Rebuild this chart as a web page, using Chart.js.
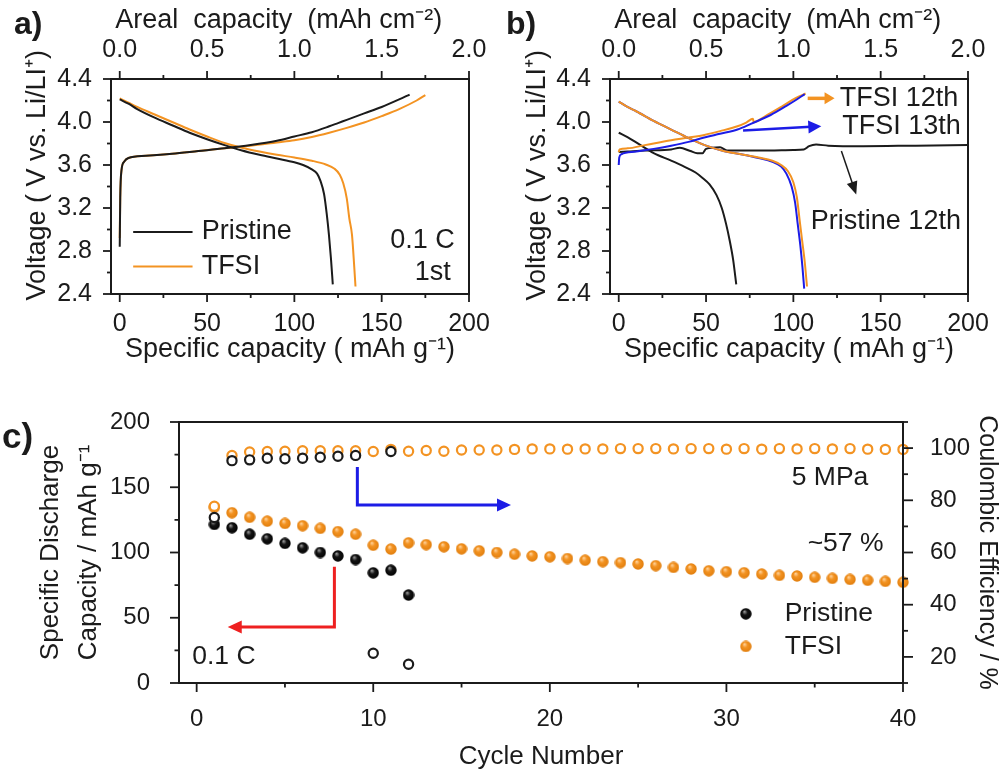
<!DOCTYPE html>
<html>
<head>
<meta charset="utf-8">
<script src="https://cdn.jsdelivr.net/npm/chart.js@4.4.1/dist/chart.umd.min.js"></script>
<style>
  body { margin: 0; background: #fff; width: 1000px; height: 773px; overflow: hidden; position: relative; }
  canvas { position: absolute; }
</style>
</head>
<body>
<canvas id="chart-a" width="500" height="370" style="left:0;top:0;width:500px;height:370px"></canvas>
<canvas id="chart-b" width="500" height="370" style="left:500px;top:0;width:500px;height:370px"></canvas>
<canvas id="chart-c" width="1000" height="393" style="left:0;top:380px;width:1000px;height:393px"></canvas>
<script>
  "use strict";

  // a) 1st cycle, 0.1 C
  const aPristineChargeCap = [0, 0.3, 1, 2.5, 5, 15, 30, 45, 60, 75, 90, 100, 110, 120, 125, 130, 140, 150, 160, 166];
  const aPristineChargeV = [2.84, 3.3, 3.55, 3.63, 3.665, 3.685, 3.705, 3.73, 3.755, 3.785, 3.825, 3.865, 3.905, 3.96, 3.99, 4.02, 4.08, 4.14, 4.21, 4.255];
  const aPristineDischCap = [0, 5, 10, 20, 30, 40, 50, 60, 70, 80, 90, 100, 105, 110, 113, 115, 117, 118.5, 119.8, 121, 122];
  const aPristineDischV = [4.21, 4.17, 4.12, 4.04, 3.97, 3.9, 3.84, 3.785, 3.735, 3.695, 3.66, 3.625, 3.6, 3.56, 3.52, 3.45, 3.33, 3.15, 2.95, 2.72, 2.49];
  const aTfsiChargeCap = [0, 0.3, 1, 2.5, 5, 15, 30, 45, 60, 75, 90, 100, 110, 120, 130, 140, 150, 160, 170, 175];
  const aTfsiChargeV = [2.92, 3.3, 3.55, 3.63, 3.665, 3.685, 3.705, 3.73, 3.755, 3.78, 3.81, 3.83, 3.86, 3.9, 3.945, 3.995, 4.055, 4.12, 4.2, 4.25];
  const aTfsiDischCap = [0, 5, 10, 20, 30, 40, 50, 60, 70, 80, 90, 100, 110, 118, 123, 126, 128, 130, 131.5, 133, 134.3, 135];
  const aTfsiDischV = [4.22, 4.18, 4.14, 4.07, 4.0, 3.93, 3.865, 3.805, 3.76, 3.725, 3.695, 3.67, 3.64, 3.605, 3.565, 3.51, 3.43, 3.29, 3.1, 2.95, 2.65, 2.47];

  // b) 12th / 13th cycle
  const bPristineChargeCap = [0, 5, 15, 30, 35, 41, 45, 48, 50, 58, 62, 80, 100, 106, 109, 113, 120, 140, 170, 200];
  const bPristineChargeV = [3.72, 3.725, 3.735, 3.745, 3.76, 3.73, 3.71, 3.71, 3.75, 3.765, 3.735, 3.735, 3.74, 3.745, 3.775, 3.79, 3.78, 3.775, 3.78, 3.785];
  const bPristineDischCap = [0, 5, 10, 15, 20, 30, 38, 44, 48, 52, 56, 59, 61.5, 63.5, 65.5, 67.3];
  const bPristineDischV = [3.9, 3.86, 3.81, 3.76, 3.71, 3.64, 3.58, 3.53, 3.48, 3.42, 3.32, 3.2, 3.05, 2.9, 2.72, 2.49];
  const bTfsi12ChargeCap = [0, 0.5, 5, 15, 30, 40, 49, 58, 68, 73, 76.9, 77.2, 84, 94, 101, 107];
  const bTfsi12ChargeV = [3.72, 3.745, 3.755, 3.785, 3.83, 3.855, 3.88, 3.915, 3.96, 3.995, 4.03, 4.0, 4.055, 4.15, 4.22, 4.265];
  const bTfsi12DischCap = [0, 5, 10, 20, 30, 40, 50, 60, 70, 80, 88, 93, 97, 100, 102, 103.5, 105, 106.5, 107.8];
  const bTfsi12DischV = [4.19, 4.14, 4.1, 4.01, 3.93, 3.85, 3.78, 3.73, 3.7, 3.67, 3.64, 3.6, 3.54, 3.44, 3.3, 3.1, 2.9, 2.7, 2.47];
  const bTfsi13ChargeCap = [0, 0.3, 1.5, 10, 20, 30, 40, 49, 58, 68, 76, 87, 96, 101, 106.5];
  const bTfsi13ChargeV = [3.6, 3.67, 3.7, 3.725, 3.75, 3.78, 3.815, 3.855, 3.89, 3.93, 3.985, 4.065, 4.15, 4.2, 4.26];
  const bTfsi13DischCap = [0, 5, 10, 20, 30, 40, 50, 60, 70, 80, 88, 93, 96, 99, 101, 102.5, 104, 105.2, 106.2];
  const bTfsi13DischV = [4.19, 4.14, 4.1, 4.01, 3.93, 3.85, 3.78, 3.73, 3.7, 3.665, 3.63, 3.585, 3.52, 3.4, 3.25, 3.05, 2.85, 2.65, 2.45];

  // c) cycling at 0.1 C, 5 MPa
  const cyclesPristine = [1, 2, 3, 4, 5, 6, 7, 8, 9, 10, 11, 12];
  const pristineCapacity = [121.5, 119, 114, 110.5, 107, 103.6, 100, 97.4, 94.6, 84.4, 86.4, 67.4];
  const pristineCE = [73.4, 95.2, 95.5, 96.1, 95.9, 96.1, 96.5, 96.9, 97.2, 21.4, 98.7, 17.2];
  const cyclesTfsi = [1, 2, 3, 4, 5, 6, 7, 8, 9, 10, 11, 12, 13, 14, 15, 16, 17, 18, 19, 20,
    21, 22, 23, 24, 25, 26, 27, 28, 29, 30, 31, 32, 33, 34, 35, 36, 37, 38, 39, 40];
  const tfsiCapacity = [134.6, 130.5, 127, 124, 122.3, 120.5, 118.5, 116, 114, 105.6, 102.6, 107.4, 106, 104.4, 102.8, 101.3, 100, 98.7, 97.4, 96.7,
    95.4, 94.1, 93, 92.2, 91.2, 89.9, 88.6, 87.4, 86, 85.3, 84.5, 83.5, 82.5, 82, 81, 80.2, 79.4, 78.7, 77.9, 77.2];
  const tfsiCE = [77.7, 97.2, 98.5, 98.7, 98.8, 99, 99, 99, 99, 98.7, 99.5, 98.8, 99.1, 98.8, 99.3, 99.3, 99.3, 99.5, 99.7, 99.7,
    99.6, 99.7, 99.7, 99.8, 99.8, 99.8, 99.7, 99.8, 99.8, 99.6, 99.8, 99.6, 99.8, 99.7, 99.8, 99.7, 99.8, 99.6, 99.5, 99.5];

  // tick values
  const capTicks = [0, 50, 100, 150, 200];
  const capMinor = [25, 75, 125, 175];
  const arealTicks = [0, 0.5, 1, 1.5, 2];
  const arealMinor = [0.25, 0.75, 1.25, 1.75];
  const voltTicks = [2.4, 2.8, 3.2, 3.6, 4.0, 4.4];
  const voltMinor = [2.6, 3.0, 3.4, 3.8, 4.2];
  const cycleTicks = [0, 10, 20, 30, 40];
  const cycleMinor = [5, 15, 25, 35];
  const capCTicks = [0, 50, 100, 150, 200];
  const capCMinor = [25, 75, 125, 175];
  const ceTicks = [20, 40, 60, 80, 100];
  const ceMinor = [10, 30, 50, 70, 90, 110];

  const INK = "#1b1b1b";
  const ORANGE = "#f39322";
  const BLUE = "#1c1ce6";
  const RED = "#ee2020";
  const FONT = '"Liberation Sans", Arial, Helvetica, sans-serif';

  Chart.defaults.font.family = FONT;
  Chart.defaults.color = INK;

  const pairs = (xs, ys) => xs.map((x, i) => ({ x, y: ys[i] }));
  const fixTicks = (values) => (scale) => {
    scale.ticks = values.map((value) => ({ value }));
  };

  function makeBall(size, edge, mid, light) {
    const c = document.createElement("canvas");
    c.width = c.height = size;
    const g = c.getContext("2d");
    const r = size / 2;
    const grad = g.createRadialGradient(r * 0.75, r * 0.6, r * 0.05, r, r, r);
    grad.addColorStop(0, light);
    grad.addColorStop(0.4, mid);
    grad.addColorStop(1, edge);
    g.fillStyle = grad;
    g.beginPath();
    g.arc(r, r, r - 0.3, 0, Math.PI * 2);
    g.fill();
    return c;
  }
  const blackBall = makeBall(12, "#000", "#151515", "#9a9a9a");
  const orangeBall = makeBall(12, "#e07d0c", "#f39322", "#ffd29a");

  // frame, tick marks, arrows and labels, placed through the chart's scales
  function decorPlugin(cfg) {
    return {
      id: "decor",
      afterDraw(chart) {
        const { ctx, chartArea: area, scales } = chart;
        ctx.save();
        ctx.strokeStyle = INK;
        ctx.lineWidth = 1.8;
        (cfg.ticks || []).forEach((t) => {
          const s = scales[t.scale];
          const pos = s.options.position;
          [[t.major, t.len], [t.minor, t.len / 2]].forEach(([vals, len]) => {
            vals.forEach((v) => {
              const p = s.getPixelForValue(v);
              ctx.beginPath();
              if (pos === "bottom") { ctx.moveTo(p, area.bottom); ctx.lineTo(p, area.bottom + len); }
              if (pos === "top") { ctx.moveTo(p, area.top); ctx.lineTo(p, area.top - len); }
              if (pos === "left") { ctx.moveTo(area.left, p); ctx.lineTo(area.left - len, p); }
              if (pos === "right") { ctx.moveTo(area.right, p); ctx.lineTo(area.right + len, p); }
              ctx.stroke();
            });
          });
        });
        ctx.lineWidth = 2;
        ctx.strokeRect(area.left, area.top, area.width, area.height);

        const xs = scales[cfg.xScale];
        const toPx = (pt) => [xs.getPixelForValue(pt[0]), scales[pt[2] || cfg.yScale].getPixelForValue(pt[1])];

        (cfg.lines || []).forEach((ln) => {
          const pts = ln.pts.map(toPx);
          ctx.strokeStyle = ln.color;
          ctx.fillStyle = ln.color;
          ctx.lineWidth = ln.width;
          ctx.lineJoin = "miter";
          const n = pts.length;
          let end = pts[n - 1];
          if (ln.head) {
            const [px, py] = pts[n - 2];
            const ang = Math.atan2(end[1] - py, end[0] - px);
            const tip = end;
            end = [tip[0] - Math.cos(ang) * ln.head[0] * 0.8, tip[1] - Math.sin(ang) * ln.head[0] * 0.8];
            ctx.beginPath();
            ctx.moveTo(tip[0], tip[1]);
            ctx.lineTo(tip[0] - Math.cos(ang) * ln.head[0] + Math.sin(ang) * ln.head[1] / 2,
              tip[1] - Math.sin(ang) * ln.head[0] - Math.cos(ang) * ln.head[1] / 2);
            ctx.lineTo(tip[0] - Math.cos(ang) * ln.head[0] - Math.sin(ang) * ln.head[1] / 2,
              tip[1] - Math.sin(ang) * ln.head[0] + Math.cos(ang) * ln.head[1] / 2);
            ctx.closePath();
            ctx.fill();
          }
          ctx.beginPath();
          ctx.moveTo(pts[0][0], pts[0][1]);
          for (let i = 1; i < n - 1; i++) ctx.lineTo(pts[i][0], pts[i][1]);
          ctx.lineTo(end[0], end[1]);
          ctx.stroke();
        });

        (cfg.images || []).forEach((im) => {
          const [px, py] = toPx(im.at);
          ctx.drawImage(im.img, px - im.img.width / 2, py - im.img.height / 2);
        });

        ctx.fillStyle = INK;
        ctx.textBaseline = "middle";
        (cfg.texts || []).forEach((t) => {
          const [px, py] = toPx(t.at);
          ctx.font = `${t.size}px ${FONT}`;
          ctx.textAlign = t.align || "left";
          ctx.fillText(t.text, px, py);
        });

        if (cfg.label) {
          ctx.font = `bold ${cfg.label.size}px ${FONT}`;
          ctx.textAlign = "left";
          ctx.textBaseline = "alphabetic";
          ctx.fillText(cfg.label.text, cfg.label.px, cfg.label.py);
        }
        ctx.restore();
      },
    };
  }

  function curve(xs, ys, color) {
    return {
      data: pairs(xs, ys),
      borderColor: color,
      borderWidth: 2,
      pointRadius: 0,
      fill: false,
      cubicInterpolationMode: "monotone",
    };
  }

  function voltageChart(canvasId, datasets, decor, leftWidth) {
    return new Chart(document.getElementById(canvasId), {
      type: "line",
      data: { datasets },
      options: {
        responsive: false,
        animation: false,
        layout: { padding: { left: 0, top: 0, right: 500 - leftWidth - 358, bottom: 0 } },
        plugins: { legend: { display: false }, tooltip: { enabled: false } },
        scales: {
          x: {
            type: "linear",
            position: "bottom",
            min: -5,
            max: 200,
            afterBuildTicks: fixTicks(capTicks),
            afterFit: (s) => { s.height = 76; },
            grid: { display: false },
            border: { display: false },
            ticks: { padding: 7, font: { size: 25 }, autoSkip: false, maxRotation: 0, callback: (v) => String(v) },
            title: { display: true, text: "Specific capacity ( mAh g\u207B\u00B9)", font: { size: 27 }, padding: { top: 0, bottom: 4 } },
          },
          x2: {
            type: "linear",
            position: "top",
            min: -0.05,
            max: 2.0,
            afterBuildTicks: fixTicks(arealTicks),
            afterFit: (s) => { s.height = 79; },
            grid: { display: false },
            border: { display: false },
            ticks: { padding: 6, font: { size: 25 }, autoSkip: false, maxRotation: 0, callback: (v) => v.toFixed(1) },
            title: { display: true, text: "Areal  capacity  (mAh cm\u207B\u00B2)   ", font: { size: 27 }, padding: { top: 4, bottom: 0 } },
          },
          y: {
            type: "linear",
            position: "left",
            min: 2.4,
            max: 4.4,
            afterBuildTicks: fixTicks(voltTicks),
            afterFit: (s) => { s.width = leftWidth; },
            grid: { display: false },
            border: { display: false },
            ticks: { padding: 11, font: { size: 25 }, callback: (v) => v.toFixed(1) },
            title: { display: true, text: "   Voltage ( V vs. Li/LI\u207A)", font: { size: 27 }, padding: { top: 21, bottom: 0 } },
          },
        },
      },
      plugins: [decorPlugin(decor)],
    });
  }

  const voltTickMarks = [
    { scale: "x", major: capTicks, minor: capMinor, len: 8 },
    { scale: "x2", major: arealTicks, minor: arealMinor, len: 8 },
    { scale: "y", major: voltTicks, minor: voltMinor, len: 8 },
  ];

  voltageChart("chart-a", [
    curve(aPristineChargeCap, aPristineChargeV, INK),
    curve(aPristineDischCap, aPristineDischV, INK),
    curve(aTfsiChargeCap, aTfsiChargeV, ORANGE),
    curve(aTfsiDischCap, aTfsiDischV, ORANGE),
  ], {
    xScale: "x",
    yScale: "y",
    ticks: voltTickMarks,
    lines: [
      { pts: [[7.7, 2.977], [41.7, 2.977]], color: INK, width: 2 },
      { pts: [[7.7, 2.655], [41.7, 2.655]], color: ORANGE, width: 2 },
    ],
    texts: [
      { text: "Pristine", at: [46.9, 2.977], size: 27 },
      { text: "TFSI", at: [46.9, 2.655], size: 27 },
      { text: "0.1 C", at: [191.8, 2.898], size: 27, align: "right" },
      { text: "1st", at: [189.5, 2.6], size: 27, align: "right" },
    ],
    label: { text: "a)", px: 14, py: 34, size: 32 },
  }, 111);

  voltageChart("chart-b", [
    curve(bTfsi13ChargeCap, bTfsi13ChargeV, BLUE),
    curve(bTfsi12DischCap, bTfsi12DischV, ORANGE),
    curve(bTfsi13DischCap, bTfsi13DischV, BLUE),
    curve(bTfsi12ChargeCap, bTfsi12ChargeV, ORANGE),
    curve(bPristineChargeCap, bPristineChargeV, INK),
    curve(bPristineDischCap, bPristineDischV, INK),
  ], {
    xScale: "x",
    yScale: "y",
    ticks: voltTickMarks,
    lines: [
      { pts: [[108.2, 4.22], [123.6, 4.22]], color: ORANGE, width: 3.5, head: [10, 12] },
      { pts: [[71.2, 3.92], [116, 3.96]], color: BLUE, width: 2.5, head: [13, 13] },
      { pts: [[127.5, 3.73], [136, 3.325]], color: INK, width: 1.5, head: [13, 11] },
    ],
    texts: [
      { text: "TFSI 12th", at: [126.5, 4.22], size: 27 },
      { text: "TFSI 13th", at: [128, 3.96], size: 27 },
      { text: "Pristine 12th", at: [110, 3.07], size: 27 },
    ],
    label: { text: "b)", px: 6, py: 34, size: 32 },
  }, 110);

  // c) capacity and coulombic efficiency vs cycle
  new Chart(document.getElementById("chart-c"), {
    type: "scatter",
    data: {
      datasets: [
        {
          data: pairs(cyclesPristine, pristineCE),
          yAxisID: "y2",
          pointStyle: "circle",
          pointRadius: 4.6,
          pointBorderWidth: 2.2,
          pointBackgroundColor: "#fff",
          pointBorderColor: INK,
          clip: false,
        },
        {
          data: pairs(cyclesTfsi, tfsiCE),
          yAxisID: "y2",
          pointStyle: "circle",
          pointRadius: 4.6,
          pointBorderWidth: 2.2,
          pointBackgroundColor: "#fff",
          pointBorderColor: ORANGE,
          clip: false,
        },
        {
          data: pairs(cyclesPristine, pristineCapacity),
          yAxisID: "y",
          pointStyle: blackBall,
          pointRadius: 6,
          clip: false,
        },
        {
          data: pairs(cyclesTfsi, tfsiCapacity),
          yAxisID: "y",
          pointStyle: orangeBall,
          pointRadius: 6,
          clip: false,
        },
      ],
    },
    options: {
      responsive: false,
      animation: false,
      layout: { padding: { left: 0, top: 42, right: 0, bottom: 0 } },
      plugins: { legend: { display: false }, tooltip: { enabled: false } },
      scales: {
        x: {
          type: "linear",
          position: "bottom",
          min: -1,
          max: 40,
          afterBuildTicks: fixTicks(cycleTicks),
          afterFit: (s) => { s.height = 90; },
          grid: { display: false },
          border: { display: false },
          ticks: { padding: 14, font: { size: 24 }, autoSkip: false, maxRotation: 0, callback: (v) => String(v) },
          title: { display: true, text: "Cycle Number", font: { size: 26 }, padding: { top: 0, bottom: 1 } },
        },
        y: {
          type: "linear",
          position: "left",
          min: 0,
          max: 200,
          afterBuildTicks: fixTicks(capCTicks),
          afterFit: (s) => { s.width = 179; },
          grid: { display: false },
          border: { display: false },
          ticks: { padding: 21, font: { size: 24 }, callback: (v) => String(v) },
          title: {
            display: true,
            text: ["Specific Discharge", "Capacity / mAh g\u207B\u00B9"],
            font: { size: 26, lineHeight: 1.45 },
            padding: { top: 32, bottom: 0 },
          },
        },
        y2: {
          type: "linear",
          position: "right",
          min: 10,
          max: 110,
          afterBuildTicks: fixTicks(ceTicks),
          afterFit: (s) => { s.width = 97; },
          grid: { display: false },
          border: { display: false },
          ticks: { padding: 19, font: { size: 24 }, callback: (v) => String(v) },
          title: { display: true, text: "Coulombic Efficiency / %", font: { size: 25, lineHeight: 1 }, padding: { top: 1, bottom: 0 } },
        },
      },
    },
    plugins: [decorPlugin({
      xScale: "x",
      yScale: "y",
      ticks: [
        { scale: "x", major: cycleTicks, minor: cycleMinor, len: 9 },
        { scale: "y", major: capCTicks, minor: capCMinor, len: 9 },
        { scale: "y2", major: ceTicks, minor: ceMinor, len: 10 },
      ],
      lines: [
        { pts: [[9.1, 165.5], [9.1, 136.4], [17.8, 136.4]], color: BLUE, width: 3, head: [14, 13] },
        { pts: [[7.8, 89], [7.8, 43], [1.76, 43]], color: RED, width: 3, head: [14, 13] },
      ],
      images: [
        { img: blackBall, at: [31.1, 53] },
        { img: orangeBall, at: [31.1, 28] },
      ],
      texts: [
        { text: "5 MPa", at: [33.7, 157], size: 26.5 },
        { text: "~57 %", at: [34.6, 107], size: 26.5 },
        { text: "Pristine", at: [33.3, 53], size: 26.5 },
        { text: "TFSI", at: [33.3, 28], size: 26.5 },
        { text: "0.1 C", at: [-0.25, 20.2], size: 26.5 },
      ],
      label: { text: "c)", px: 2, py: 68, size: 35 },
    })],
  });
</script>
</body>
</html>
